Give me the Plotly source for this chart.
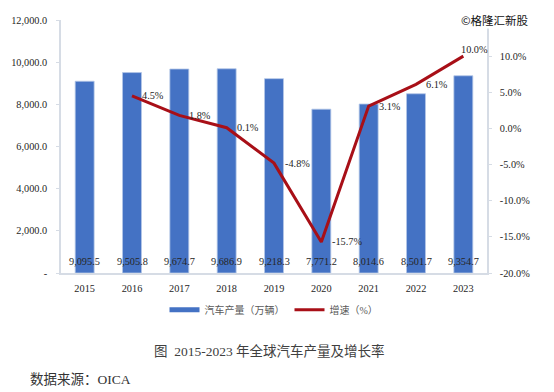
import plotly.graph_objects as go

years = ["2015", "2016", "2017", "2018", "2019", "2020", "2021", "2022", "2023"]
production = [9095.5, 9505.8, 9674.7, 9686.9, 9218.3, 7771.2, 8014.6, 8501.7, 9354.7]
growth_years = years[1:]
growth = [4.5, 1.8, 0.1, -4.8, -15.7, 3.1, 6.1, 10.0]
growth_labels = ["4.5%", "1.8%", "0.1%", "-4.8%", "-15.7%", "3.1%", "6.1%", "10.0%"]
left_ticks = [0, 2000, 4000, 6000, 8000, 10000, 12000]
left_tick_labels = ["-", "2,000.0", "4,000.0", "6,000.0", "8,000.0", "10,000.0", "12,000.0"]
right_ticks = [-20, -15, -10, -5, 0, 5, 10, 15]
right_tick_labels = ["-20.0%", "-15.0%", "-10.0%", "-5.0%", "0.0%", "5.0%", "10.0%", "15.0%"]
label_shift_x = [21, 21, 21, 23, 26, 21, 21, 11]
label_shift_y = [0, 0, 0, 0, 0, 0, 0, 7]
bar_name = "汽车产量（万辆）"
line_name = "增速（%）"
caption = "图  2015-2023 年全球汽车产量及增长率"
source = "数据来源：OICA"
watermark = "©格隆汇新股"

FONT = "'Liberation Serif','Noto Sans CJK SC',serif"
BLUE = "#4472C4"
RED = "#A80F17"
AXIS = "#D6DCE5"
TXT = "#262626"

fig = go.Figure()
fig.add_trace(go.Bar(
    x=years, y=production, marker=dict(color=BLUE, line=dict(color="#B4C7E7", width=0.8)),
    showlegend=False, hoverinfo="skip",
))
fig.add_trace(go.Scatter(
    x=[years[0]], y=[None], mode="lines", name=bar_name,
    line=dict(color=BLUE, width=5),
))
fig.add_trace(go.Scatter(
    x=growth_years, y=growth, yaxis="y2", mode="lines", name=line_name,
    line=dict(color=RED, width=3),
))

annotations = [
    dict(x=i, y=0, xref="x", yref="y", text=f"{v:,.1f}", showarrow=False, yanchor="bottom", yshift=4,
         font=dict(family=FONT, size=10.3, color=TXT))
    for i, v in enumerate(production)
]
annotations += [
    dict(x=years.index(x), y=y, xref="x", yref="y2", text=t, showarrow=False, xshift=sx, yshift=sy,
         font=dict(family=FONT, size=10.3, color=TXT))
    for x, y, t, sx, sy in zip(growth_years, growth, growth_labels, label_shift_x, label_shift_y)
]
annotations += [
    dict(x=269, y=352, xref="paper", yref="paper", text=caption, showarrow=False,
         xanchor="center", yanchor="middle",
         font=dict(family=FONT, size=13.5, color="#404040")),
    dict(x=80, y=380, xref="paper", yref="paper", text=source, showarrow=False,
         xanchor="center", yanchor="middle",
         font=dict(family=FONT, size=13.5, color="#333333")),
    dict(x=495, y=20, xref="paper", yref="paper", text=watermark, showarrow=False,
         xanchor="center", yanchor="middle", bgcolor="white", borderpad=0,
         font=dict(family="'Noto Sans CJK SC',sans-serif", size=11.5, color="#111111")),
]
# picture coordinates → fractions of the plot area
L, R, T, B = 61, 487, 20, 273.5
PAGE = 8  # default page margin around the figure
for a in annotations:
    if a["xref"] == "paper":
        a["x"] = (a["x"] - L) / (R - L)
        a["y"] = (B - a["y"]) / (B - T)

fig.update_layout(
    width=554 - PAGE, height=392 - PAGE, autosize=False,
    margin=dict(l=L - PAGE, r=554 - R, t=T - PAGE, b=392 - B, autoexpand=False),
    paper_bgcolor="white", plot_bgcolor="white",
    bargap=0.6, font=dict(family=FONT, size=10.3, color=TXT),
    xaxis=dict(type="category", categoryorder="array", categoryarray=years, range=[-0.5, 8.5],
               automargin=False,
               showline=True, linecolor=AXIS, linewidth=1.5, ticks="", showgrid=False,
               tickfont=dict(family=FONT, size=10.3, color=TXT), ticklabelstandoff=5),
    yaxis=dict(range=[0, 12000], tickvals=left_ticks, ticktext=left_tick_labels, automargin=False,
               showline=True, linecolor=AXIS, linewidth=1.5, ticks="outside", ticklen=3,
               tickcolor=AXIS, showgrid=False, zeroline=False,
               tickfont=dict(family=FONT, size=10.3, color=TXT), ticklabelstandoff=7),
    yaxis2=dict(range=[-20, 15], tickvals=right_ticks, ticktext=right_tick_labels, automargin=False,
                overlaying="y", side="right", showline=True, linecolor=AXIS, linewidth=1.5,
                ticks="outside", ticklen=3, tickcolor=AXIS, showgrid=False, zeroline=False,
                tickfont=dict(family=FONT, size=10.3, color=TXT), ticklabelstandoff=6),
    legend=dict(orientation="h", x=0.5, xanchor="center", y=-0.088, yanchor="top",
                font=dict(family=FONT, size=10, color="#595959"),
                itemwidth=30, bgcolor="rgba(0,0,0,0)", traceorder="normal"),
    annotations=annotations,
    showlegend=True,
)
fig.write_html("out.html")
